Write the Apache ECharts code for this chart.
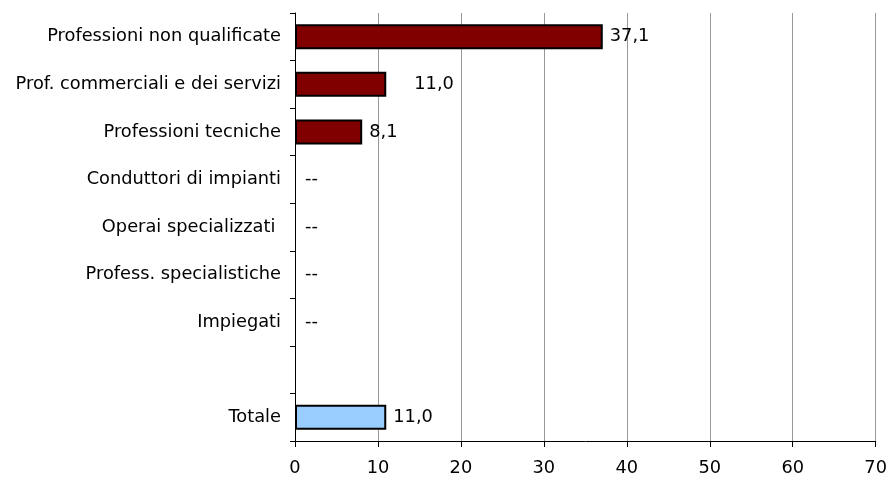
<!DOCTYPE html>
<html>
<head>
<meta charset="utf-8">
<script src="https://cdn.jsdelivr.net/npm/echarts@6/dist/echarts.min.js"></script>
<style>
  html, body { margin: 0; padding: 0; background: #fff; }
  #chart { width: 890px; height: 481px; }
</style>
</head>
<body>
<div id="chart"></div>
<script>
  // categorie dall'alto verso il basso
  var categories = [
    'Professioni non qualificate',
    'Prof. commerciali e dei servizi',
    'Professioni tecniche',
    'Conduttori di impianti',
    'Operai specializzati ',
    'Profess. specialistiche',
    'Impiegati',
    '',
    'Totale'
  ];
  // null = dato non disponibile ("--"), undefined = riga vuota
  var values = [37.1, 11.0, 8.1, null, null, null, null, undefined, 11.0];
  var xTicks = [0, 10, 20, 30, 40, 50, 60, 70];

  var fontFamily = '"DejaVu Sans", Verdana, sans-serif';
  var fontSize = 17.8;

  var data = [];
  for (var i = 0; i < values.length; i++) {
    var v = values[i];
    if (v === undefined) { data.push('-'); continue; }
    var item = {
      value: v === null ? 0 : v,
      raw: v,
      itemStyle: {
        color: categories[i] === 'Totale' ? '#99ccff' : '#800000',
        borderColor: '#000',
        borderWidth: v === null ? 0 : 2
      }
    };
    if (i === 1) {
      item.label = { distance: 28 };
    } else if (v === null) {
      item.label = { distance: 10 };
    }
    data.push(item);
  }

  var myChart = echarts.init(document.getElementById('chart'));
  var option = {
    animation: false,
    grid: { left: 295, right: 10, top: 13, bottom: 40 },
    xAxis: {
      type: 'value',
      min: xTicks[0],
      max: xTicks[xTicks.length - 1],
      interval: 10,
      axisLine: { show: true, lineStyle: { color: '#000', width: 1 } },
      axisTick: { show: true, length: 6, lineStyle: { color: '#000' } },
      axisLabel: { color: '#000', fontSize: fontSize, fontFamily: fontFamily, margin: 18 },
      splitLine: { show: true, lineStyle: { color: '#999', width: 1 } }
    },
    yAxis: {
      type: 'category',
      inverse: true,
      data: categories,
      axisLine: { show: true, lineStyle: { color: '#000', width: 1 } },
      axisTick: { show: true, length: 5, lineStyle: { color: '#000' } },
      axisLabel: { color: '#000', fontSize: fontSize, fontFamily: fontFamily, margin: 14 }
    },
    series: [{
      type: 'bar',
      barWidth: 25,
      data: data,
      label: {
        show: true,
        position: 'right',
        distance: 7,
        color: '#000',
        fontSize: fontSize,
        fontFamily: fontFamily,
        formatter: function (p) {
          var r = p.data.raw;
          return r === null ? '--' : r.toFixed(1).replace('.', ',');
        }
      }
    }]
  };
  myChart.setOption(option);
</script>
</body>
</html>
